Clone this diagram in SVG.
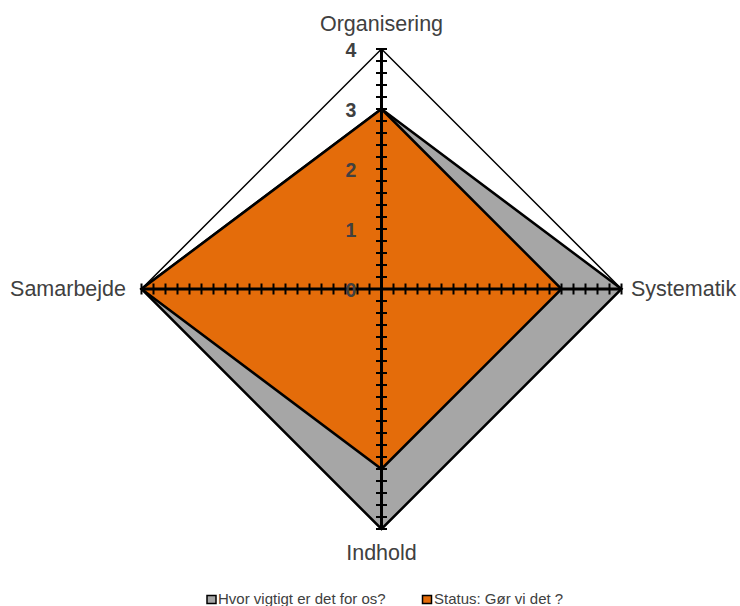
<svg xmlns="http://www.w3.org/2000/svg" width="740" height="606" viewBox="0 0 740 606">
<defs>
<style>
.cat{font-family:"Liberation Sans",Arial,sans-serif;font-size:21.5px;fill:#404040}
.val{font-family:"Liberation Sans",Arial,sans-serif;font-size:19.5px;font-weight:bold;fill:#404040;text-anchor:middle}
.leg{font-family:"Liberation Sans",Arial,sans-serif;font-size:15px;fill:#404040}
.axis{stroke:#000;stroke-width:3;fill:none}
.tick{stroke:#000;stroke-width:2;fill:none}
</style>
</defs>
<rect width="740" height="606" fill="#fff"/>
<g id="grid">
<polygon points="381.5,49 621.5,289 381.5,529 141.5,289" fill="none" stroke="#000" stroke-width="1.5"/>
</g>
<g id="series-hvor-vigtigt">
<polygon points="381.5,109 621.5,289 381.5,529 141.5,289" fill="#A6A6A6" stroke="#000" stroke-width="2.5" stroke-linejoin="miter"/>
</g>
<g id="series-status">
<polygon points="381.5,109 561.5,289 381.5,469 141.5,289" fill="#E46C0A" stroke="#000" stroke-width="2.5"/>
</g>
<g id="axes">
<line class="axis" x1="381.5" y1="49" x2="381.5" y2="529"/>
<line class="axis" x1="141.5" y1="289" x2="621.5" y2="289"/>
<path class="tick" d="M376,61h11M376,73h11M376,85h11M376,97h11M376,109h11M376,121h11M376,133h11M376,145h11M376,157h11M376,169h11M376,181h11M376,193h11M376,205h11M376,217h11M376,229h11M376,241h11M376,253h11M376,265h11M376,277h11M376,49h11
M376,301h11M376,313h11M376,325h11M376,337h11M376,349h11M376,361h11M376,373h11M376,385h11M376,397h11M376,409h11M376,421h11M376,433h11M376,445h11M376,457h11M376,469h11M376,481h11M376,493h11M376,505h11M376,517h11M376,529h11
M393.5,283.5v11M405.5,283.5v11M417.5,283.5v11M429.5,283.5v11M441.5,283.5v11M453.5,283.5v11M465.5,283.5v11M477.5,283.5v11M489.5,283.5v11M501.5,283.5v11M513.5,283.5v11M525.5,283.5v11M537.5,283.5v11M549.5,283.5v11M561.5,283.5v11M573.5,283.5v11M585.5,283.5v11M597.5,283.5v11M609.5,283.5v11M621.5,283.5v11
M369.5,283.5v11M357.5,283.5v11M345.5,283.5v11M333.5,283.5v11M321.5,283.5v11M309.5,283.5v11M297.5,283.5v11M285.5,283.5v11M273.5,283.5v11M261.5,283.5v11M249.5,283.5v11M237.5,283.5v11M225.5,283.5v11M213.5,283.5v11M201.5,283.5v11M189.5,283.5v11M177.5,283.5v11M165.5,283.5v11M153.5,283.5v11M141.5,283.5v11"/>
</g>
<g id="axis-values">
<text class="val" x="351" y="57">4</text>
<text class="val" x="351" y="117">3</text>
<text class="val" x="351" y="177">2</text>
<text class="val" x="351" y="237">1</text>
<text class="val" x="351" y="297">0</text>
</g>
<g id="label-organisering"><text class="cat" x="381.5" y="31" text-anchor="middle">Organisering</text></g>
<g id="label-systematik"><text class="cat" x="631" y="296">Systematik</text></g>
<g id="label-indhold"><text class="cat" x="381.5" y="560" text-anchor="middle">Indhold</text></g>
<g id="label-samarbejde"><text class="cat" x="126" y="296" text-anchor="end">Samarbejde</text></g>
<g id="legend">
<g id="legend-hvor-vigtigt">
<rect x="207" y="595.5" width="9" height="8" fill="#A6A6A6" stroke="#000" stroke-width="1.5"/>
<text class="leg" x="218" y="603.5">Hvor vigtigt er det for os?</text>
</g>
<g id="legend-status">
<rect x="422.5" y="595.5" width="9" height="8" fill="#E46C0A" stroke="#000" stroke-width="1.5"/>
<text class="leg" x="434" y="603.5">Status: Gør vi det ?</text>
</g>
</g>
</svg>
